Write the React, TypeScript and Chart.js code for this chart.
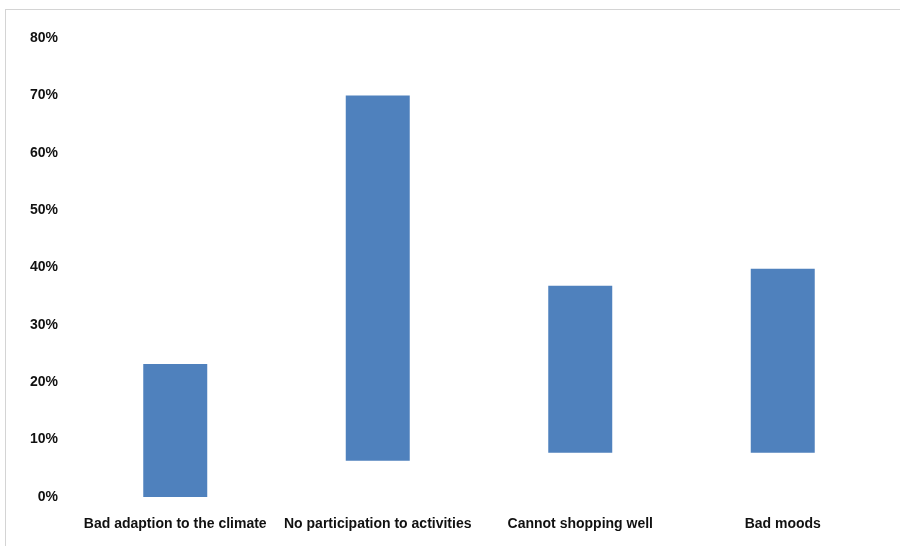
import React, { useEffect, useRef } from "react";
import { Chart, registerables } from "chart.js";

Chart.register(...registerables);

const categories = [
  "Bad adaption to the climate",
  "No participation to activities",
  "Cannot shopping well",
  "Bad moods",
];
const barStarts = [0, 6.3, 7.7, 7.7];
const barEnds = [23.2, 70, 36.8, 39.8];
const yMin = 0;
const yMax = 80;
const yStep = 10;

export default function App() {
  const ref = useRef<HTMLCanvasElement | null>(null);

  useEffect(() => {
    if (!ref.current) return;
    const font = { family: "'Liberation Sans', Arial, sans-serif", size: 14, weight: "bold" as const };
    const chart = new Chart(ref.current, {
      type: "bar",
      data: {
        labels: categories,
        datasets: [
          {
            data: categories.map((_, i) => [barStarts[i], barEnds[i]]) as any,
            backgroundColor: "#4F81BD",
            borderWidth: 0,
            categoryPercentage: 1,
            barPercentage: 0.316,
          },
        ],
      },
      options: {
        animation: false,
        responsive: false,
        maintainAspectRatio: false,
        layout: { padding: { top: 38, right: 16, left: 0, bottom: 0 } },
        plugins: { legend: { display: false }, tooltip: { enabled: false } },
        scales: {
          x: {
            grid: { display: false, drawTicks: false },
            border: { display: false },
            ticks: { color: "#111", font, padding: 19, maxRotation: 0, autoSkip: false },
            afterFit: (s: any) => {
              s.height = 49;
            },
          },
          y: {
            min: yMin,
            max: yMax,
            grid: { display: false, drawTicks: false },
            border: { display: false },
            ticks: {
              stepSize: yStep,
              color: "#111",
              font,
              padding: 16,
              callback: (v: any) => `${v}%`,
            },
            afterFit: (s: any) => {
              s.width = 74;
            },
          },
        },
      },
    });
    return () => chart.destroy();
  }, []);

  return (
    <div style={{ position: "fixed", left: 0, top: 0, width: 900, height: 546, background: "#fff", overflow: "hidden" }}>
      <div
        style={{
          position: "absolute",
          left: 5,
          top: 9,
          width: 900,
          height: 546,
          borderTop: "1px solid #d4d4d4",
          borderLeft: "1px solid #d4d4d4",
        }}
      />
      <canvas ref={ref} width={900} height={546} style={{ position: "absolute", left: 0, top: 0 }} />
    </div>
  );
}
